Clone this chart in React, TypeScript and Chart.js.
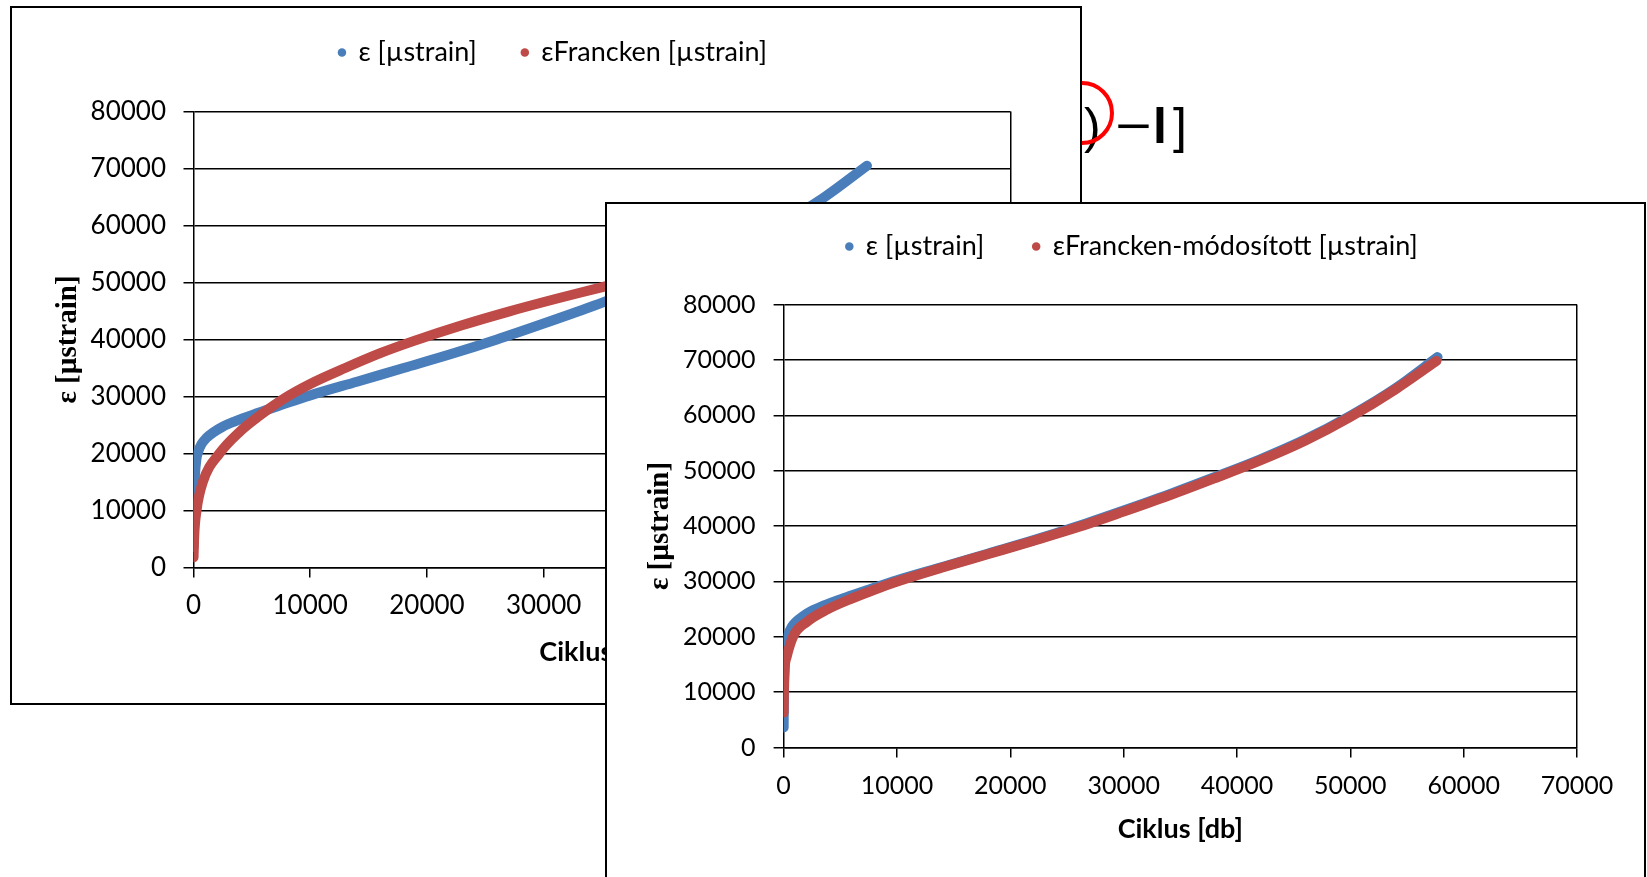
import React, { useEffect, useRef } from 'react';
import { Chart, registerables } from 'chart.js';

Chart.register(...registerables);

// ---- data ----
const cyclesMeasured = [5, 20, 60, 120, 250, 400, 700, 1100, 1700, 2500, 3500, 5500, 7500, 10000, 14000, 18000, 22000, 26000, 30000, 34000, 38000, 42000, 46000, 50000, 54000, 57700];
const strainMeasured = [3600, 8000, 12500, 16000, 19000, 20300, 21700, 22700, 23700, 24700, 25600, 27100, 28500, 30200, 32600, 35000, 37400, 40000, 42800, 45700, 48800, 52000, 55600, 59900, 64900, 70500];

const cyclesFrancken = [5, 60, 260, 800, 2220, 4000, 5500, 7800, 10000, 13000, 16000, 18960, 23000, 27000, 31000, 35030, 40000, 45000, 50000, 55000, 57700];
const strainFrancken = [1800, 5500, 10000, 15000, 20000, 23900, 26400, 29700, 32200, 35000, 37600, 39800, 42500, 44900, 47100, 49200, 51900, 54500, 56900, 59200, 60400];

const cyclesModified = [5, 40, 260, 880, 2060, 3830, 5900, 7900, 9700, 14000, 18000, 22000, 26000, 30000, 34000, 38000, 42000, 46000, 50000, 54000, 57600];
const strainModified = [6300, 12000, 16300, 20200, 22700, 24900, 26800, 28400, 29750, 32500, 34900, 37300, 39800, 42600, 45500, 48600, 51800, 55400, 59700, 64700, 69800];

const xTickValues = [0, 10000, 20000, 30000, 40000, 50000, 60000, 70000];
const yTickValues = [0, 10000, 20000, 30000, 40000, 50000, 60000, 70000, 80000];

const labelMeasured = 'ε [µstrain]';
const labelFrancken = 'εFrancken [µstrain]';
const labelModified = 'εFrancken-módosított [µstrain]';
const xTitle = 'Ciklus [db]';
const yTitle = 'ε [µstrain]';

const BLUE = '#4A7EBB';
const RED = '#BE4B48';
const SANS = 'Lato, "Open Sans", "DejaVu Sans", sans-serif';
const SERIF = '"Liberation Serif", "DejaVu Serif", serif';

function pts(xs: number[], ys: number[]) {
  return xs.map((x, i) => ({ x, y: ys[i] }));
}

type Geo = {
  canvasW: number;
  canvasH: number;
  rightGap: number;
  yAxisW: number;
  topGap: number;
  xAxisH: number;
  yTitlePad: number;
  xTitlePad: number;
  xTickPad: number;
  yTickPad: number;
  tickSize: number;
  legendPad: number;
};

function series(label: string, xs: number[], ys: number[], color: string, order: number) {
  return {
    label,
    data: pts(xs, ys),
    xAxisID: 'x',
    yAxisID: 'y',
    showLine: true,
    borderColor: color,
    backgroundColor: color,
    pointBackgroundColor: color,
    pointBorderColor: color,
    pointBorderWidth: 0,
    pointRadius: 0,
    pointHoverRadius: 0,
    pointStyle: 'circle',
    borderWidth: 10,
    borderCapStyle: 'round',
    borderJoinStyle: 'round',
    cubicInterpolationMode: 'monotone',
    order,
  };
}

function makeConfig(fitLabel: string, fitX: number[], fitY: number[], g: Geo): any {
  return {
    type: 'scatter',
    data: {
      datasets: [
        series(labelMeasured, cyclesMeasured, strainMeasured, BLUE, 1),
        series(fitLabel, fitX, fitY, RED, 0),
      ],
    },
    options: {
      responsive: false,
      animation: false,
      events: [],
      layout: { padding: 0 },
      plugins: {
        legend: {
          display: true,
          position: 'top',
          labels: {
            usePointStyle: true,
            pointStyle: 'circle',
            boxWidth: 6,
            boxHeight: 6,
            padding: g.legendPad,
            color: '#000',
            font: { family: SANS, size: 27 },
            sort: (a: any, b: any) => a.datasetIndex - b.datasetIndex,
          },
        },
        tooltip: { enabled: false },
      },
      scales: {
        x: {
          type: 'linear',
          position: 'bottom',
          min: 0,
          max: 70000,
          afterBuildTicks: (s: any) => {
            s.ticks = xTickValues.map((v) => ({ value: v }));
          },
          ticks: {
            color: '#000',
            font: { family: SANS, size: g.tickSize },
            padding: g.xTickPad,
            maxRotation: 0,
            autoSkip: false,
            callback: (v: any) => String(v),
          },
          grid: {
            color: (c: any) => (c.tick && c.tick.value === 70000 ? '#000' : 'rgba(0,0,0,0)'),
            tickColor: '#000',
            tickLength: 10,
            lineWidth: 1.5,
          },
          border: { color: '#000', width: 1.5 },
          title: {
            display: true,
            text: xTitle,
            color: '#000',
            font: { family: SANS, size: 27, weight: 'bold' },
            padding: { top: 0, bottom: g.xTitlePad },
          },
          afterFit: (s: any) => {
            s.height = g.xAxisH;
          },
        },
        y: {
          type: 'linear',
          position: 'left',
          min: 0,
          max: 80000,
          afterBuildTicks: (s: any) => {
            s.ticks = yTickValues.map((v) => ({ value: v }));
          },
          ticks: {
            color: '#000',
            font: { family: SANS, size: g.tickSize },
            padding: g.yTickPad,
            autoSkip: false,
            callback: (v: any) => String(v),
          },
          grid: {
            color: '#000',
            tickColor: '#000',
            tickLength: 10,
            lineWidth: 1.5,
          },
          border: { color: '#000', width: 1.5 },
          title: {
            display: true,
            text: yTitle,
            color: '#000',
            font: { family: SERIF, size: 29, weight: 'bold' },
            padding: { top: g.yTitlePad, bottom: 0 },
          },
          afterFit: (s: any) => {
            s.width = g.yAxisW;
          },
        },
        // spacer axes (no marks) that reserve room above and right of the plot
        xTop: {
          type: 'linear',
          position: 'top',
          min: 0,
          max: 1,
          display: true,
          ticks: { display: false },
          grid: { display: false },
          border: { display: false },
          afterFit: (s: any) => {
            s.height = g.topGap;
          },
        },
        yRight: {
          type: 'linear',
          position: 'right',
          min: 0,
          max: 1,
          display: true,
          ticks: { display: false },
          grid: { display: false },
          border: { display: false },
          afterFit: (s: any) => {
            s.width = g.rightGap;
          },
        },
      },
    },
  };
}

function ChartBox(props: {
  box: { left: number; top: number; width: number; height: number; z: number };
  canvasTop: number;
  geo: Geo;
  fitLabel: string;
  fitX: number[];
  fitY: number[];
}) {
  const ref = useRef<HTMLCanvasElement | null>(null);
  useEffect(() => {
    if (!ref.current) return;
    const chart = new Chart(ref.current, makeConfig(props.fitLabel, props.fitX, props.fitY, props.geo));
    return () => chart.destroy();
  }, []);
  const { box, geo } = props;
  return (
    <div
      style={{
        position: 'absolute',
        left: box.left,
        top: box.top,
        width: box.width,
        height: box.height,
        boxSizing: 'border-box',
        border: '2px solid #000',
        background: '#fff',
        overflow: 'hidden',
        zIndex: box.z,
      }}
    >
      <canvas
        ref={ref}
        width={geo.canvasW}
        height={geo.canvasH}
        style={{ position: 'absolute', left: 0, top: props.canvasTop, width: geo.canvasW, height: geo.canvasH }}
      />
    </div>
  );
}

const geo1: Geo = {
  canvasW: 1082,
  canvasH: 710,
  rightGap: 83.5,
  yAxisW: 181.5,
  topGap: 35.5,
  xAxisH: 136.5,
  yTitlePad: 39.5,
  xTitlePad: 35.5,
  xTickPad: 13,
  yTickPad: 17.5,
  tickSize: 26,
  legendPad: 45,
};

const geo2: Geo = {
  canvasW: 1050,
  canvasH: 696,
  rightGap: 80,
  yAxisW: 176.6,
  topGap: 34.5,
  xAxisH: 132.5,
  yTitlePad: 36,
  xTitlePad: 35,
  xTickPad: 13,
  yTickPad: 18,
  tickSize: 25,
  legendPad: 49,
};

const glyph: React.CSSProperties = {
  position: 'absolute',
  top: 101,
  fontFamily: '"Liberation Sans", Arial, sans-serif',
  fontSize: 50,
  lineHeight: 1,
  color: '#000',
  whiteSpace: 'pre',
};

export default function App() {
  return (
    <div
      style={{
        position: 'fixed',
        left: 0,
        top: 0,
        width: 1647,
        height: 877,
        overflow: 'hidden',
        background: '#fff',
      }}
    >
      {/* equation fragment behind the first chart */}
      <div style={{ position: 'absolute', left: 0, top: 0, zIndex: 1 }}>
        <span style={{ ...glyph, left: 1084 }}>)</span>
        <span style={{ ...glyph, left: 1115, display: 'inline-block', transform: 'scaleX(1.25)', transformOrigin: '0 0' }}>−</span>
        <span style={{ ...glyph, left: 1153, fontWeight: 'bold' }}>l</span>
        <span style={{ ...glyph, left: 1173 }}>]</span>
        <div
          style={{
            position: 'absolute',
            left: 1050,
            top: 81,
            width: 64,
            height: 64,
            boxSizing: 'border-box',
            borderRadius: '50%',
            border: '4px solid #ff0000',
          }}
        />
      </div>
      <ChartBox
        box={{ left: 10, top: 6, width: 1072, height: 699, z: 2 }}
        canvasTop={-14.5}
        geo={geo1}
        fitLabel={labelFrancken}
        fitX={cyclesFrancken}
        fitY={strainFrancken}
      />
      <ChartBox
        box={{ left: 605, top: 202, width: 1041, height: 690, z: 3 }}
        canvasTop={-20.5}
        geo={geo2}
        fitLabel={labelModified}
        fitX={cyclesModified}
        fitY={strainModified}
      />
    </div>
  );
}
